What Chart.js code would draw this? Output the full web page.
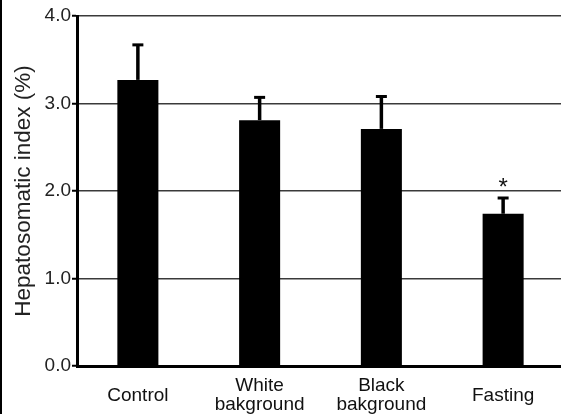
<!DOCTYPE html>
<html>
<head>
<meta charset="utf-8">
<script src="https://cdn.jsdelivr.net/npm/chart.js@4/dist/chart.umd.min.js"></script>
<style>
  html, body { margin: 0; padding: 0; background: #fff; overflow: hidden; }
  #wrap { width: 565px; height: 414px; position: relative; }
</style>
</head>
<body>
<div id="wrap"><canvas id="c" width="565" height="414"></canvas></div>
<script>
// Groups on the x axis (each label may wrap onto two lines)
const categories = [['Control'], ['White', 'bakground'], ['Black', 'bakground'], ['Fasting']];
// Mean hepatosomatic index (%) per group
const meanValues = [3.27, 2.81, 2.71, 1.74];
// Upper error bar length (SD) per group
const errorValues = [0.40, 0.26, 0.37, 0.18];
// Significance marks shown above the error bars
const significance = ['', '', '', '*'];
// Y axis tick values
const yTicks = [0, 1, 2, 3, 4];

const FONT = '"Liberation Sans", Arial, sans-serif';

// Left frame edge
const frameEdge = {
  id: 'frameEdge',
  beforeDraw(chart) {
    const ctx = chart.ctx;
    ctx.save();
    ctx.fillStyle = '#000';
    ctx.fillRect(0, 0, 2, chart.height);
    ctx.restore();
  }
};

// Upper error bars with caps, plus significance marks
const errorBars = {
  id: 'errorBars',
  afterDatasetsDraw(chart) {
    const ctx = chart.ctx;
    const meta = chart.getDatasetMeta(0);
    const y = chart.scales.y;
    ctx.save();
    ctx.strokeStyle = '#000';
    ctx.lineCap = 'butt';
    meta.data.forEach((bar, i) => {
      const top = y.getPixelForValue(meanValues[i] + errorValues[i]);
      const base = y.getPixelForValue(meanValues[i]);
      ctx.lineWidth = 3.5;
      ctx.beginPath();
      ctx.moveTo(bar.x, base);
      ctx.lineTo(bar.x, top);
      ctx.stroke();
      ctx.lineWidth = 3;
      ctx.beginPath();
      ctx.moveTo(bar.x - 5.5, top);
      ctx.lineTo(bar.x + 5.5, top);
      ctx.stroke();
      if (significance[i]) {
        ctx.fillStyle = '#111';
        ctx.font = '24px ' + FONT;
        ctx.textAlign = 'center';
        ctx.textBaseline = 'middle';
        ctx.fillText(significance[i], bar.x, top - 10);
      }
    });
    ctx.restore();
  }
};

new Chart(document.getElementById('c'), {
  type: 'bar',
  data: {
    labels: categories,
    datasets: [{
      data: meanValues,
      backgroundColor: '#000',
      borderWidth: 0,
      barPercentage: 0.337,
      categoryPercentage: 1.0
    }]
  },
  options: {
    responsive: false,
    animation: false,
    devicePixelRatio: 1,
    layout: { padding: { top: 16, right: 1, left: 0, bottom: 0 } },
    plugins: {
      legend: { display: false },
      tooltip: { enabled: false }
    },
    scales: {
      x: {
        grid: { display: false, drawTicks: false },
        border: { display: true, color: '#000', width: 3 },
        ticks: {
          color: '#111',
          font: { family: FONT, size: 19, lineHeight: 1.0 },
          padding: 20,
          crossAlign: 'center',
          maxRotation: 0,
          autoSkip: false
        },
        afterFit(scale) { scale.height = 48; }
      },
      y: {
        min: 0,
        max: 4,
        afterBuildTicks(scale) { scale.ticks = yTicks.map(v => ({ value: v })); },
        grid: {
          color: '#3a3a3a',
          lineWidth: 1.5,
          drawTicks: true,
          tickLength: 5,
          tickColor: '#000',
          tickWidth: 2
        },
        border: { display: true, color: '#000', width: 3 },
        ticks: {
          color: '#222',
          font: { family: FONT, size: 19 },
          padding: 1,
          callback: v => Number(v).toFixed(1)
        },
        title: {
          display: true,
          text: 'Hepatosomatic index (%)',
          color: '#222',
          font: { family: FONT, size: 22.5 },
          padding: { top: 10, bottom: 0 }
        },
        afterFit(scale) { scale.width = 77; }
      }
    }
  },
  plugins: [frameEdge, errorBars]
});
</script>
</body>
</html>
